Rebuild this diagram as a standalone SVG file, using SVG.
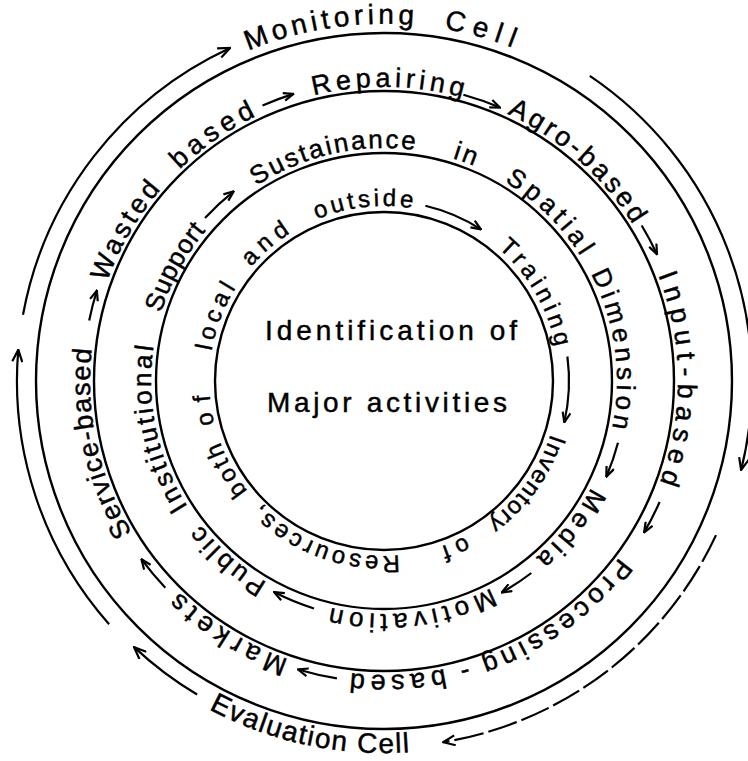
<svg xmlns="http://www.w3.org/2000/svg" width="748" height="761" viewBox="0 0 748 761">
<style>
.ring{fill:none;stroke:#000;stroke-width:2.4}
.con{fill:none;stroke:#000;stroke-width:2.2}
.dash{stroke-dasharray:30 5}
text{font-family:"Liberation Sans",Arial,sans-serif;fill:#000;stroke:#000;stroke-width:0.45}
.t3{font-size:27px}
.t2{font-size:26px}
.t1{font-size:24px}
.tm{font-size:28px}
.tc{font-size:28px}
</style>
<defs>
<path id="p3" d="M678 381A294 294 0 1 1 90 381A294 294 0 1 1 678 381A294 294 0 1 1 90 381A294 294 0 1 1 678 381"/>
<path id="p2" d="M617 381A233 233 0 1 1 151 381A233 233 0 1 1 617 381A233 233 0 1 1 151 381A233 233 0 1 1 617 381"/>
<path id="p1" d="M559 381A175 175 0 1 1 209 381A175 175 0 1 1 559 381A175 175 0 1 1 209 381A175 175 0 1 1 559 381"/>
<path id="pm" d="M741 381A357 357 0 1 1 27 381A357 357 0 1 1 741 381A357 357 0 1 1 27 381A357 357 0 1 1 741 381"/>
<path id="pe" d="M208.8 709.2A372 372 0 0 0 422.9 751"/>
<marker id="ah" viewBox="0 0 12 10" refX="11" refY="5" markerWidth="12" markerHeight="10" markerUnits="userSpaceOnUse" orient="auto">
<path d="M1 1L11 5L1 9" fill="none" stroke="#000" stroke-width="2.2"/>
</marker>
<marker id="ahL" viewBox="0 0 14 12" refX="13" refY="6" markerWidth="14" markerHeight="12" markerUnits="userSpaceOnUse" orient="auto">
<path d="M1 1L13 6L1 11" fill="none" stroke="#000" stroke-width="2.2"/>
</marker>
</defs>
<rect width="748" height="761" fill="#fff"/>

<g id="rings">
<circle id="ring1" class="ring" cx="384" cy="381" r="169"/>
<circle id="ring2" class="ring" cx="384" cy="381" r="228"/>
<circle id="ring3" class="ring" cx="384" cy="381" r="290"/>
<circle id="ring4" class="ring" cx="384" cy="381" r="348"/>
</g>

<g id="center">
<text x="265" y="340" font-size="28" textLength="252" lengthAdjust="spacing">Identification of</text>
<text x="267" y="412" font-size="28" textLength="240" lengthAdjust="spacing">Major activities</text>
</g>

<g id="cells">
<g id="monitoring-cell">
<text class="tm"><textPath href="#pm" startOffset="1542.8" textLength="168.9" lengthAdjust="spacing">Monitoring</textPath></text>
<text class="tm"><textPath href="#pm" startOffset="1742.2" textLength="71" lengthAdjust="spacing">Cell</textPath></text>
</g>
<g id="evaluation-cell">
<text class="tc"><textPath href="#pe" startOffset="0" textLength="207.8" lengthAdjust="spacing">Evaluation Cell</textPath></text>
</g>
</g>

<g id="ring3-labels" class="t3">
<g id="service-based"><text><textPath href="#p3" startOffset="764" textLength="191.4" lengthAdjust="spacing">Service-based</textPath></text></g>
<g id="wasted-based"><text><textPath href="#p3" startOffset="1024.2" textLength="107.8" lengthAdjust="spacing">Wasted</textPath></text>
<text><textPath href="#p3" startOffset="1159.2" textLength="93.4" lengthAdjust="spacing">based</textPath></text></g>
<g id="repairing"><text><textPath href="#p3" startOffset="1314.1" textLength="150.3" lengthAdjust="spacing">Repairing</textPath></text></g>
<g id="agro-based"><text><textPath href="#p3" startOffset="1512.2" textLength="169.8" lengthAdjust="spacing">Agro-based</textPath></text></g>
<g id="input-based"><text><textPath href="#p3" startOffset="1738.5" textLength="212.4" lengthAdjust="spacing">Input-based</textPath></text></g>
<g id="processing-based"><text><textPath href="#p3" startOffset="188.8" textLength="174.5" lengthAdjust="spacing">Processing</textPath></text>
<text><textPath href="#p3" startOffset="377.2">-</textPath></text>
<text><textPath href="#p3" startOffset="400.8" textLength="94.4" lengthAdjust="spacing">based</textPath></text></g>
<g id="markets"><text><textPath href="#p3" startOffset="558.8" textLength="129.3" lengthAdjust="spacing">Markets</textPath></text></g>
</g>

<g id="ring2-labels" class="t2">
<g id="public-institutional-support"><text><textPath href="#p2" startOffset="488.4" textLength="88.2" lengthAdjust="spacing">Public</textPath></text>
<text><textPath href="#p2" startOffset="599" textLength="167.5" lengthAdjust="spacing">Institutional</textPath></text>
<text><textPath href="#p2" startOffset="800.7" textLength="94.3" lengthAdjust="spacing">Support</textPath></text></g>
<g id="sustainance"><text><textPath href="#p2" startOffset="962.6" textLength="165.9" lengthAdjust="spacing">Sustainance</textPath></text>
<text><textPath href="#p2" startOffset="1167.1" textLength="22.8" lengthAdjust="spacing">in</textPath></text>
<text><textPath href="#p2" startOffset="1224.1" textLength="107.4" lengthAdjust="spacing">Spatial</textPath></text>
<text><textPath href="#p2" startOffset="1351.8" textLength="159" lengthAdjust="spacing">Dimension</textPath></text></g>
<g id="media"><text><textPath href="#p2" startOffset="110.6" textLength="89.9" lengthAdjust="spacing">Media</textPath></text></g>
<g id="motivation"><text><textPath href="#p2" startOffset="254.6" textLength="165.1" lengthAdjust="spacing">Motivation</textPath></text></g>
</g>

<g id="ring1-labels" class="t1">
<g id="inventory"><text><textPath href="#p1" startOffset="53.8" textLength="110" lengthAdjust="spacing">Inventory</textPath></text>
<text><textPath href="#p1" startOffset="190.3" textLength="26.9" lengthAdjust="spacing">of</textPath></text>
<text><textPath href="#p1" startOffset="259.3" textLength="153" lengthAdjust="spacing">Resources,</textPath></text>
<text><textPath href="#p1" startOffset="431" textLength="56.5" lengthAdjust="spacing">both</textPath></text>
<text><textPath href="#p1" startOffset="506.1" textLength="29.9" lengthAdjust="spacing">of</textPath></text>
<text><textPath href="#p1" startOffset="579.7" textLength="68.1" lengthAdjust="spacing">local</textPath></text>
<text><textPath href="#p1" startOffset="673.5" textLength="52.2" lengthAdjust="spacing">and</textPath></text>
<text><textPath href="#p1" startOffset="755.6" textLength="97.7" lengthAdjust="spacing">outside</textPath></text></g>
<g id="training"><text><textPath href="#p1" startOffset="948.7" textLength="116.1" lengthAdjust="spacing">Training</textPath></text></g>
</g>

<g id="connectors">
<path class="con" marker-end="url(#ahL)" d="M23 314.8A367 367 0 0 1 230.1 47.9"/>
<path class="con" marker-end="url(#ahL)" d="M589.8 75.9A368 368 0 0 1 741.1 470"/>
<path class="con dash" marker-end="url(#ahL)" d="M716 535.1A366 366 0 0 1 443.1 742.2"/>
<path class="con" marker-end="url(#ahL)" d="M197.1 694.5A365 365 0 0 1 134.1 647.1"/>
<path class="con" marker-end="url(#ahL)" d="M109.1 624.2A367 367 0 0 1 18.3 349.7"/>

<path class="con" marker-end="url(#ah)" d="M89.2 320.5A301 301 0 0 1 96.9 290.5"/>
<path class="con" marker-end="url(#ah)" d="M262.5 105.6A301 301 0 0 1 293.5 93.9"/>
<path class="con" marker-end="url(#ah)" d="M463.4 94.8A297 297 0 0 1 500 107.6"/>
<path class="con" marker-end="url(#ah)" d="M641.7 225.5A301 301 0 0 1 657 254.3"/>
<path class="con" marker-end="url(#ah)" d="M659.6 502A301 301 0 0 1 644.1 532.4"/>
<path class="con" marker-end="url(#ah)" d="M336.9 678.3A301 301 0 0 1 298 669.5"/>
<path class="con" marker-end="url(#ah)" d="M165.3 587.8A301 301 0 0 1 141.4 559.2"/>

<path class="con" marker-end="url(#ah)" d="M205 218.1A242 242 0 0 1 233.7 191.3"/>
<path class="con" marker-end="url(#ah)" d="M618 442.8A242 242 0 0 1 606.3 476.7"/>
<path class="con" marker-end="url(#ah)" d="M531.3 573A242 242 0 0 1 501.7 592.5"/>
<path class="con" marker-end="url(#ah)" d="M314 608.5A238 238 0 0 1 274.1 592.1"/>

<path class="con" marker-end="url(#ah)" d="M425.4 205.8A180 180 0 0 1 481 229.4"/>
<path class="con" marker-end="url(#ah)" d="M567.4 356.5A185 185 0 0 1 564.3 422.3"/>
</g>
</svg>
